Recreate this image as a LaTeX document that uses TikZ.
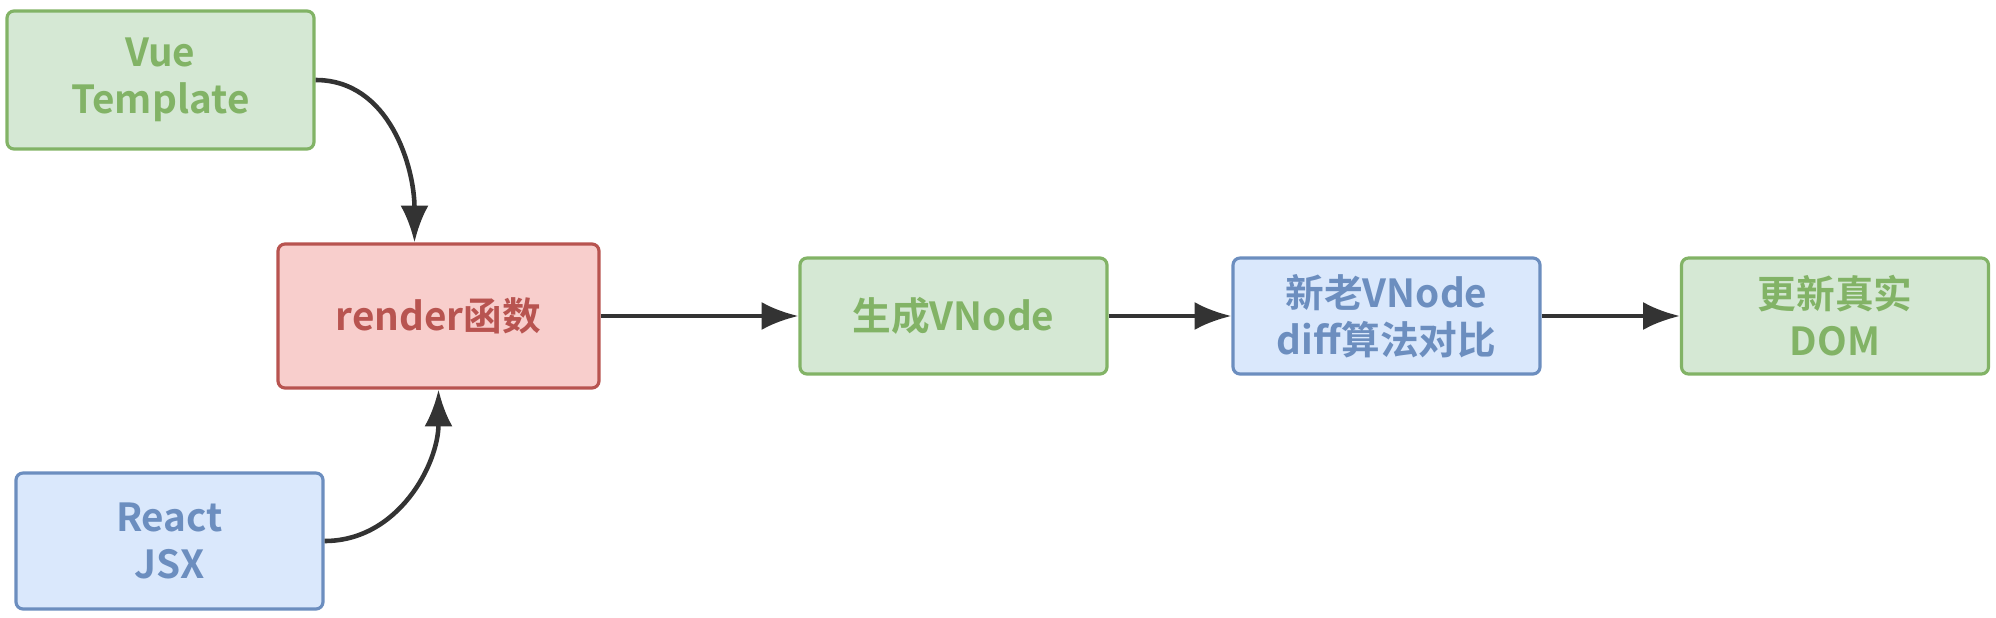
\documentclass[tikz,border=0pt]{standalone}
\usepackage{fontspec}
\setmainfont{Noto Sans CJK SC Bold}
\usepackage{xcolor}
\usetikzlibrary{arrows.meta,positioning,calc}

\definecolor{greenfill}{HTML}{D5E8D4}
\definecolor{greenline}{HTML}{82B366}
\definecolor{redfill}{HTML}{F8CECC}
\definecolor{redline}{HTML}{B85450}
\definecolor{bluefill}{HTML}{DAE8FC}
\definecolor{blueline}{HTML}{6C8EBF}
\definecolor{arrowgray}{HTML}{333333}

\begin{document}
\begin{tikzpicture}[x=0.1mm, y=-0.1mm]
				      \tikzset{align=center,font=\fontsize{11}{13.4}\selectfont}
				      \tikzset{box/.style = {shape=rectangle,draw,rounded corners=2pt,line width=0.9pt,minimum width=3.07cm,minimum height=1.16cm}}
				      \tikzset{greenbox/.style = {box,fill=greenfill,draw=greenline,text=greenline}}
				      \tikzset{redbox/.style = {box,fill=redfill,draw=redline,text=redline}}
				      \tikzset{bluebox/.style = {box,fill=bluefill,draw=blueline,text=blueline}}
				      \tikzset{flow/.style = {draw=arrowgray,line width=1.3pt,-{Latex[length=10.5pt,width=8pt]}}}

				      \useasboundingbox (0,0) rectangle (1996,617);

				      \node[greenbox,minimum height=1.38cm] (vue) at (160.5,80) {Vue\\Template};
				      \node[redbox,minimum width=3.21cm,minimum height=1.44cm] (render) at (438.5,316) {render函数};
				      \node[bluebox,minimum height=1.36cm] (react) at (169.5,541) {React\\JSX};
				      \node[greenbox] (gen) at (953.5,316) {生成VNode};
				      \node[bluebox] (diff) at (1386.5,316) {新老VNode\\diff算法对比};
				      \node[greenbox] (dom) at (1835,316) {更新真实\\DOM};

				      \draw[flow] (vue.east) to[out=0,in=90] ([xshift=-2.4mm]render.north);
				      \draw[flow] (react.east) to[out=0,in=-90] (render.south);

				      \path[every edge/.style={flow}]
				      (render) edge (gen)
				      (gen) edge (diff)
				      (diff) edge (dom);
			      \end{tikzpicture}
\end{document}
